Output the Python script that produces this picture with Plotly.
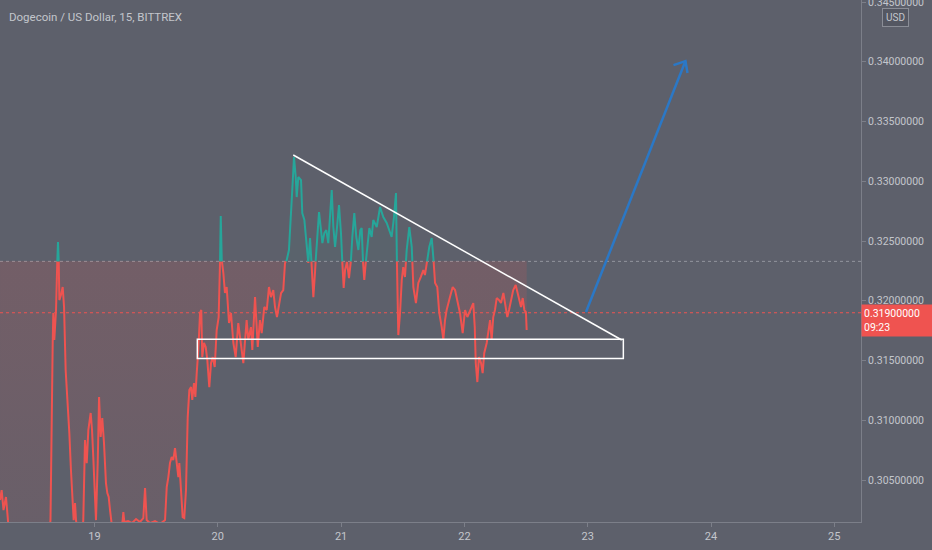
import plotly.graph_objects as go

title_text = "Dogecoin / US Dollar, 15, BITTREX"

times = [18.234, 18.247, 18.262, 18.282, 18.296, 18.307, 18.477, 18.631, 18.643, 18.653,
         18.661, 18.666, 18.674, 18.688, 18.698, 18.704, 18.710, 18.715, 18.728, 18.742,
         18.753, 18.766, 18.783, 18.796, 18.809, 18.823, 18.831, 18.842, 18.850, 18.866,
         18.899, 18.909, 18.923, 18.937, 18.950, 18.969, 18.980, 18.990, 19.004, 19.012,
         19.026, 19.037, 19.050, 19.063, 19.077, 19.093, 19.104, 19.115, 19.126, 19.134,
         19.150, 19.207, 19.227, 19.234, 19.242, 19.272, 19.304, 19.337, 19.369, 19.396,
         19.410, 19.423, 19.450, 19.491, 19.531, 19.572, 19.586, 19.599, 19.612, 19.626,
         19.639, 19.653, 19.667, 19.680, 19.688, 19.702, 19.715, 19.728, 19.742, 19.756,
         19.769, 19.783, 19.793, 19.807, 19.818, 19.829, 19.842, 19.856, 19.866, 19.874,
         19.888, 19.902, 19.915, 19.931, 19.945, 19.959, 19.975, 19.991, 20.007, 20.018,
         20.024, 20.032, 20.045, 20.058, 20.072, 20.091, 20.107, 20.126, 20.145, 20.166,
         20.188, 20.207, 20.234, 20.247, 20.269, 20.280, 20.302, 20.324, 20.342, 20.356,
         20.377, 20.397, 20.415, 20.431, 20.450, 20.464, 20.480, 20.496, 20.513, 20.531,
         20.545, 20.559, 20.577, 20.594, 20.607, 20.618, 20.632, 20.640, 20.653, 20.675,
         20.685, 20.702, 20.721, 20.734, 20.748, 20.762, 20.775, 20.788, 20.802, 20.821,
         20.837, 20.848, 20.864, 20.880, 20.896, 20.910, 20.924, 20.937, 20.951, 20.967,
         20.983, 20.999, 21.010, 21.021, 21.032, 21.048, 21.064, 21.080, 21.091, 21.107,
         21.123, 21.140, 21.156, 21.167, 21.178, 21.188, 21.202, 21.216, 21.229, 21.248,
         21.261, 21.289, 21.316, 21.342, 21.370, 21.410, 21.429, 21.445, 21.451, 21.456,
         21.464, 21.478, 21.492, 21.504, 21.518, 21.532, 21.553, 21.573, 21.586, 21.607,
         21.626, 21.646, 21.667, 21.680, 21.699, 21.715, 21.735, 21.748, 21.762, 21.780,
         21.796, 21.816, 21.829, 21.843, 21.856, 21.883, 21.905, 21.924, 21.942, 21.964,
         21.986, 22.005, 22.024, 22.040, 22.059, 22.072, 22.084, 22.092, 22.105, 22.118,
         22.135, 22.148, 22.161, 22.181, 22.194, 22.208, 22.221, 22.234, 22.248, 22.262,
         22.281, 22.297, 22.316, 22.329, 22.348, 22.362, 22.378, 22.396, 22.416, 22.432,
         22.445, 22.459, 22.473, 22.486, 22.499, 22.505]

prices = [0.30333, 0.30416, 0.30249, 0.30358, 0.30190, 0.30040, 0.30000, 0.30040, 0.30165, 0.31228,
          0.31647, 0.31898, 0.31672, 0.31923, 0.32324, 0.32492, 0.32324, 0.32006, 0.32048, 0.32115,
          0.31948, 0.31421, 0.31144, 0.30893, 0.30584, 0.30274, 0.30165, 0.30308, 0.30165, 0.30040,
          0.30040, 0.30165, 0.30835, 0.30642, 0.30918, 0.31061, 0.30918, 0.30693, 0.30358, 0.30165,
          0.30642, 0.31195, 0.30860, 0.31019, 0.30810, 0.30475, 0.30391, 0.30358, 0.30249, 0.30149,
          0.30040, 0.30040, 0.30149, 0.30232, 0.30149, 0.30157, 0.30140, 0.30174, 0.30149, 0.30182,
          0.30433, 0.30165, 0.30140, 0.30157, 0.30132, 0.30165, 0.30442, 0.30525, 0.30642, 0.30693,
          0.30667, 0.30768, 0.30642, 0.30525, 0.30642, 0.30358, 0.30190, 0.30182, 0.30416, 0.31027,
          0.31253, 0.31278, 0.31170, 0.31312, 0.31195, 0.31395, 0.31588, 0.31898, 0.31923, 0.31529,
          0.31647, 0.31613, 0.31504, 0.31278, 0.31479, 0.31529, 0.31446, 0.31755, 0.31864, 0.32324,
          0.32709, 0.32341, 0.32232, 0.32065, 0.32115, 0.31814, 0.31898, 0.31647, 0.31529, 0.31814,
          0.31613, 0.31479, 0.31839, 0.31672, 0.31780, 0.31588, 0.32031, 0.31613, 0.31839, 0.31730,
          0.31948, 0.31923, 0.32115, 0.32031, 0.32090, 0.31948, 0.31864, 0.31981, 0.32065, 0.32090,
          0.32316, 0.32341, 0.32425, 0.32701, 0.32985, 0.33203, 0.33036, 0.32868, 0.33036, 0.33010,
          0.32734, 0.32676, 0.32483, 0.32316, 0.32525, 0.32282, 0.32031, 0.32232, 0.32483, 0.32743,
          0.32592, 0.32483, 0.32567, 0.32592, 0.32483, 0.32759, 0.32927, 0.32617, 0.32450, 0.32617,
          0.32801, 0.32567, 0.32316, 0.32107, 0.32257, 0.32324, 0.32190, 0.32341, 0.32534, 0.32734,
          0.32534, 0.32425, 0.32592, 0.32609, 0.32316, 0.32174, 0.32341, 0.32508, 0.32609, 0.32534,
          0.32676, 0.32617, 0.32785, 0.32701, 0.32651, 0.32534, 0.32701, 0.32902, 0.32508, 0.31948,
          0.31713, 0.31898, 0.32174, 0.32282, 0.32199, 0.32425, 0.32617, 0.32450, 0.32115, 0.31981,
          0.32149, 0.32199, 0.32257, 0.32216, 0.32341, 0.32450, 0.32525, 0.32366, 0.32149, 0.32115,
          0.31898, 0.31780, 0.31672, 0.31839, 0.31923, 0.32031, 0.32115, 0.32090, 0.32006, 0.31898,
          0.31730, 0.31923, 0.31864, 0.31898, 0.31948, 0.31981, 0.31780, 0.31479, 0.31320, 0.31529,
          0.31479, 0.31395, 0.31563, 0.31647, 0.31730, 0.31839, 0.31672, 0.31864, 0.31923, 0.32023,
          0.32006, 0.31981, 0.32065, 0.31981, 0.31864, 0.31923, 0.32006, 0.32090, 0.32132, 0.32065,
          0.32006, 0.31948, 0.32023, 0.31923, 0.31906, 0.31755]

baseline = 0.3233
last_price = 0.319
last_price_label = "0.31900000"
countdown_label = "09:23"
currency_label = "USD"

x_tick_vals = [19, 20, 21, 22, 23, 24, 25]
x_tick_text = ["19", "20", "21", "22", "23", "24", "25"]
y_tick_vals = [0.305, 0.310, 0.315, 0.320, 0.325, 0.330, 0.335, 0.340, 0.345]
x_range = [18.2336, 25.2165]
y_range = [0.30149, 0.34517]

trend_t = [20.612, 23.276]
trend_p = [0.33220, 0.31672]
box_t = [19.834, 23.289]
box_p = [0.31518, 0.31678]
arrow_t = [22.986, 23.793]
arrow_p = [0.31906, 0.34006]

BG = "#5d606b"
RED = "#ef5350"
GREEN = "#26a69a"
TXT = "#c3c6cc"
AXIS = "#7c7f89"
FONT = "Roboto"

# insert baseline crossings so colours split exactly at the baseline
at, ap = [], []
for i in range(len(times)):
    if i > 0:
        p0, p1 = prices[i - 1], prices[i]
        if (p0 - baseline) * (p1 - baseline) < 0:
            f = (baseline - p0) / (p1 - p0)
            at.append(times[i - 1] + f * (times[i] - times[i - 1]))
            ap.append(baseline)
    at.append(times[i])
    ap.append(prices[i])

red_fill = [min(p, baseline) for p in ap]
green_fill = [max(p, baseline) for p in ap]
red_line = [p if p <= baseline else None for p in ap]
green_line = [p if p >= baseline else None for p in ap]
base_arr = [baseline] * len(at)

fig = go.Figure()
fig.add_trace(go.Scatter(x=at, y=base_arr, mode="lines", line=dict(width=0), hoverinfo="skip", showlegend=False))
fig.add_trace(go.Scatter(x=at, y=red_fill, mode="lines", line=dict(width=0), fill="tonexty",
                         fillgradient=dict(type="vertical",
                                           colorscale=[[0, "rgba(239,83,80,0.08)"], [1, "rgba(239,83,80,0.15)"]],
                                           start=y_range[0], stop=baseline),
                         hoverinfo="skip", showlegend=False))
fig.add_trace(go.Scatter(x=at, y=base_arr, mode="lines", line=dict(width=0), hoverinfo="skip", showlegend=False))
fig.add_trace(go.Scatter(x=at, y=green_fill, mode="lines", line=dict(width=0), fill="tonexty",
                         fillcolor="rgba(38,166,154,0.04)", hoverinfo="skip", showlegend=False))
fig.add_trace(go.Scatter(x=at, y=red_line, mode="lines", line=dict(color=RED, width=2), connectgaps=False,
                         showlegend=False))
fig.add_trace(go.Scatter(x=at, y=green_line, mode="lines", line=dict(color=GREEN, width=2), connectgaps=False,
                         showlegend=False))

shapes = [
    dict(type="line", xref="paper", yref="y", x0=0, x1=1, y0=baseline, y1=baseline,
         line=dict(color="rgba(190,192,198,0.55)", width=1, dash="dot"), layer="below"),
    dict(type="line", xref="paper", yref="y", x0=0, x1=1, y0=last_price, y1=last_price,
         line=dict(color=RED, width=1, dash="dot")),
    dict(type="line", xref="x", yref="y", x0=trend_t[0], x1=trend_t[1], y0=trend_p[0], y1=trend_p[1],
         line=dict(color="white", width=1.5)),
    dict(type="rect", xref="x", yref="y", x0=box_t[0], x1=box_t[1], y0=box_p[0], y1=box_p[1],
         line=dict(color="white", width=1.5)),
    dict(type="line", xref="x", yref="y", x0=arrow_t[0], x1=arrow_t[1], y0=arrow_p[0], y1=arrow_p[1],
         line=dict(color="#2b78c6", width=2.5)),
    dict(type="path", xref="x", yref="y", xsizemode="pixel", ysizemode="pixel",
         xanchor=arrow_t[1], yanchor=arrow_p[1], path="M -12 -4 L 0 0 L 2 -12",
         line=dict(color="#2b78c6", width=2.5)),
]

annotations = [
    dict(text=title_text, xref="paper", yref="paper", x=0, y=1, xshift=7, yshift=-17,
         xanchor="left", yanchor="middle", showarrow=False,
         font=dict(family=FONT, size=11.5, color=TXT)),
    dict(text=currency_label, xref="paper", yref="paper", x=1, y=1, xshift=34, yshift=-17,
         xanchor="center", yanchor="middle", showarrow=False,
         font=dict(family=FONT, size=10, color=TXT), bgcolor="#545762",
         bordercolor="#8a8d96", borderwidth=1, borderpad=3),
    dict(text=last_price_label + "<br>" + countdown_label, xref="paper", yref="y", x=1, y=last_price,
         xanchor="left", yanchor="top", yshift=9, align="left", showarrow=False, width=66,
         font=dict(family=FONT, size=10.5, color="white"), bgcolor=RED, borderpad=2),
]

fig.update_layout(
    width=932, height=550, autosize=False,
    margin=dict(l=0, r=71, t=0, b=28, autoexpand=False),
    paper_bgcolor=BG, plot_bgcolor=BG,
    shapes=shapes, annotations=annotations,
    xaxis=dict(range=x_range, tickvals=x_tick_vals, ticktext=x_tick_text, showgrid=False, zeroline=False,
               showline=True, linecolor=AXIS, linewidth=1, ticks="outside", ticklen=4, tickcolor=AXIS,
               automargin=False, tickfont=dict(family=FONT, size=11, color=TXT)),
    yaxis=dict(range=y_range, tickvals=y_tick_vals, tickformat=".8f", side="right", showgrid=False,
               zeroline=False, showline=True, linecolor=AXIS, linewidth=1, ticks="outside", ticklen=4,
               tickcolor=AXIS, ticklabeloverflow="allow", automargin=False,
               tickfont=dict(family=FONT, size=10.5, color=TXT)),
    hovermode=False,
)

fig.write_html("out.html", config={"displayModeBar": False},
               post_script="document.body.style.margin='0';document.body.style.background='" + BG + "';")
